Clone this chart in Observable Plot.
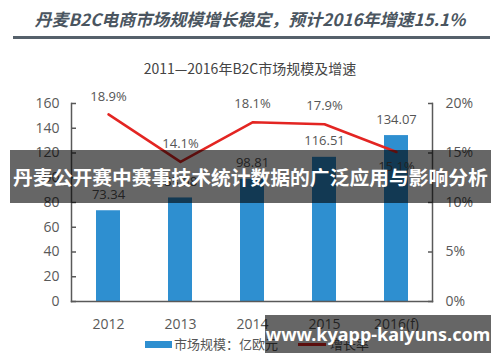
<!DOCTYPE html>
<html><head><meta charset="utf-8">
<script src="https://cdn.jsdelivr.net/npm/d3@7"></script>
<script src="https://cdn.jsdelivr.net/npm/@observablehq/plot@0.6"></script>
<style>
body{margin:0;background:#fff;}
#wrap{position:relative;width:500px;height:362px;overflow:hidden;font-family:"Open Sans","Noto Sans CJK SC",sans-serif;}
#title{position:absolute;left:0;top:7px;width:500px;text-align:center;font-family:"Noto Sans CJK SC";font-style:italic;font-weight:bold;font-size:17px;color:#4a5560;line-height:24px;white-space:nowrap;}
#rule{position:absolute;left:13px;top:36px;width:477px;height:3px;background:#56616b;}
#subtitle{position:absolute;left:0;top:58px;width:500px;text-align:center;font-family:"Noto Sans CJK SC";font-size:14px;color:#444;line-height:20px;}
#chart{position:absolute;left:0;top:80px;}
#legend{position:absolute;top:335px;left:0;height:18px;font-family:"Noto Sans CJK SC";font-size:13px;color:#555;}
.lg{position:absolute;top:0;white-space:nowrap;line-height:18px;}
.sw{position:absolute;}
.banner{position:absolute;background:rgba(0,0,0,0.6);color:#fff;font-weight:bold;text-align:center;white-space:nowrap;}
#b1{left:10px;top:150px;width:481px;height:53px;line-height:53px;font-family:"Noto Sans CJK SC";font-size:19.8px;}
#b2{left:265px;top:315px;width:226px;height:38px;line-height:38px;font-family:"Noto Sans","DejaVu Sans";font-size:18px;}
</style></head>
<body>
<div id="wrap">
  <div id="title"></div>
  <div id="rule"></div>
  <div id="subtitle"></div>
  <div id="chart"></div>
  <div id="legend"></div>
  <div class="banner" id="b1"></div>
  <div class="banner" id="b2"></div>
</div>
<script>
const titleText = "丹麦B2C电商市场规模增长稳定，预计2016年增速15.1%";
const subtitleText = "2011—2016年B2C市场规模及增速";
const years = ["2012", "2013", "2014", "2015", "2016(f)"];
const marketSize = [73.34, 83.68, 98.81, 116.51, 134.07];
const growthRate = [18.9, 14.1, 18.1, 17.9, 15.1];
const sizeTicks = [0, 20, 40, 60, 80, 100, 120, 140, 160];
const rateTicks = [0, 5, 10, 15, 20];
const legendLabels = ["市场规模：亿欧元", "增长率"];
const banner1Text = "丹麦公开赛中赛事技术统计数据的广泛应用与影响分析";
const banner2Text = "www.kyapp-kaiyuns.com";

const barColor = "#2e8fd0";
const lineColor = "#e32522";
const axisColor = "#595959";
const k = 160 / 20; // right axis (percent) mapped onto left axis range

document.getElementById("title").textContent = titleText;
document.getElementById("subtitle").textContent = subtitleText;
document.getElementById("b1").textContent = banner1Text;
document.getElementById("b2").textContent = banner2Text;

const rows = years.map((y, i) => ({year: y, size: marketSize[i], rate: growthRate[i]}));
const last = years[years.length - 1];

const chart = Plot.plot({
  width: 500,
  height: 282,
  marginTop: 23,
  marginBottom: 61,
  marginLeft: 71,
  marginRight: 68,
  style: {fontFamily: "'Open Sans','Noto Sans CJK SC',sans-serif", fontSize: "14px", color: axisColor, background: "transparent", overflow: "visible"},
  x: {domain: years, paddingInner: 0.67, paddingOuter: 0.335, axis: null, label: null},
  y: {domain: [0, 160], axis: null, label: null},
  marks: [
    Plot.barY(rows, {x: "year", y: "size", fill: barColor}),
    Plot.line(rows, {x: "year", y: d => d.rate * k, stroke: lineColor, strokeWidth: 2.5}),
    Plot.text(rows, {x: "year", y: "size", text: d => d.size.toFixed(2), dy: -16, fontSize: 13, fill: "#555"}),
    Plot.text(rows, {filter: d => d.year !== last, x: "year", y: d => d.rate * k, text: d => d.rate.toFixed(1) + "%", dy: -18, fontSize: 13, fill: "#555"}),
    Plot.text(rows, {filter: d => d.year === last, x: "year", y: d => d.rate * k, text: d => d.rate.toFixed(1) + "%", dy: 15, fontSize: 13, fill: "#555"}),
    Plot.frame({anchor: "left", stroke: axisColor, strokeWidth: 1.5}),
    Plot.frame({anchor: "right", stroke: axisColor, strokeWidth: 1.5}),
    Plot.frame({anchor: "bottom", stroke: axisColor, strokeWidth: 1.5}),
    Plot.axisY(sizeTicks, {anchor: "left", label: null, tickSize: -5, text: null, stroke: axisColor, strokeWidth: 1.5}),
    Plot.axisY(sizeTicks, {anchor: "left", label: null, tickSize: 0, tickPadding: 12, fill: axisColor, fontSize: 14}),
    Plot.axisY(rateTicks.map(r => r * k), {anchor: "right", label: null, tickSize: -5, text: null, stroke: axisColor, strokeWidth: 1.5}),
    Plot.axisY(rateTicks.map(r => r * k), {anchor: "right", label: null, tickSize: 0, tickPadding: 13, tickFormat: d => (d / k) + "%", fill: axisColor, fontSize: 14}),
    Plot.axisX(years, {anchor: "bottom", label: null, tickSize: 0, tickPadding: 18, fill: axisColor, fontSize: 14})
  ]
});
document.getElementById("chart").appendChild(chart);

// legend
const lg = document.getElementById("legend");
lg.innerHTML =
  `<div class="sw" style="left:145px;top:6px;width:27px;height:7px;background:${barColor}"></div>` +
  `<div class="lg" style="left:174px">${legendLabels[0]}</div>` +
  `<div class="sw" style="left:298px;top:8px;width:28px;height:3px;background:${lineColor}"></div>` +
  `<div class="lg" style="left:330px">${legendLabels[1]}</div>`;
</script>
</body></html>
